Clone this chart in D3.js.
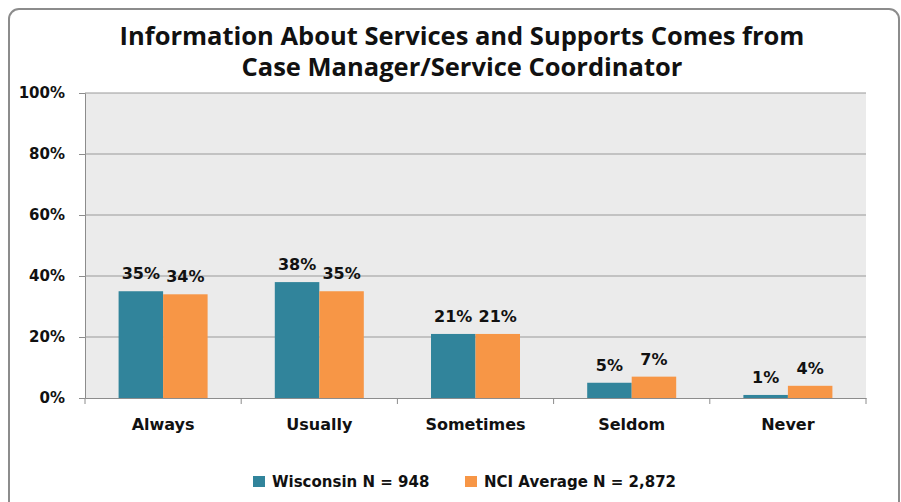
<!DOCTYPE html>
<html>
<head>
<meta charset="utf-8">
<script src="https://cdn.jsdelivr.net/npm/d3@7"></script>
<style>
  body { margin: 0; background: #fff; }
  svg { display: block; }
</style>
</head>
<body>
<svg id="chart"></svg>
<script>
const categories = ['Always', 'Usually', 'Sometimes', 'Seldom', 'Never']
const seriesNames = ['Wisconsin N = 948', 'NCI Average N = 2,872']
const wisconsin = [35, 38, 21, 5, 1]
const nciAverage = [34, 35, 21, 7, 4]
const yTicks = [0, 20, 40, 60, 80, 100]
const titleLines = ['Information About Services and Supports Comes from', 'Case Manager/Service Coordinator']

const colors = ['#31849B', '#F79646']
const width = 901, height = 502
const plot = { left: 85, right: 866, top: 93, bottom: 398 }
const labelFont = '"DejaVu Sans", Verdana, sans-serif'

const svg = d3.select('#chart')
  .attr('width', width)
  .attr('height', height)

// outer frame
svg.append('rect')
  .attr('x', 9).attr('y', 9)
  .attr('width', 890).attr('height', 520)
  .attr('rx', 10)
  .attr('fill', '#fff')
  .attr('stroke', '#8c8c8c')
  .attr('stroke-width', 2)

// title
svg.append('g').selectAll('text')
  .data(titleLines).enter().append('text')
  .attr('x', 462)
  .attr('y', (d, i) => 45 + i * 31)
  .attr('text-anchor', 'middle')
  .style('font-family', '"Open Sans", sans-serif')
  .style('font-weight', 700)
  .style('font-size', '25.5px')
  .attr('fill', '#111')
  .text(d => d)

const x0 = d3.scaleBand()
  .domain(categories)
  .range([plot.left, plot.right])
  .paddingInner(0)
  .paddingOuter(0)

const x1 = d3.scaleBand()
  .domain([0, 1])
  .range([0, x0.bandwidth()])
  .paddingOuter(0.755)
  .paddingInner(0)

const y = d3.scaleLinear()
  .domain([0, 100])
  .range([plot.bottom, plot.top])

// plot background
svg.append('rect')
  .attr('x', plot.left).attr('y', plot.top)
  .attr('width', plot.right - plot.left)
  .attr('height', plot.bottom - plot.top)
  .attr('fill', '#ebebeb')

// y axis with gridlines
const yAxis = svg.append('g')
  .attr('transform', `translate(${plot.left},0)`)
  .call(d3.axisLeft(y).tickValues(yTicks).tickSize(6).tickPadding(14).tickFormat(d => d + '%'))

yAxis.select('.domain').attr('stroke', '#8c8c8c')
yAxis.selectAll('.tick line').attr('stroke', '#8c8c8c')
yAxis.selectAll('.tick text')
  .style('font-family', labelFont)
  .style('font-weight', 700)
  .style('font-size', '15px')
  .attr('fill', '#111')

svg.append('g').selectAll('line')
  .data(yTicks.filter(d => d > 0)).enter().append('line')
  .attr('x1', plot.left).attr('x2', plot.right)
  .attr('y1', d => y(d)).attr('y2', d => y(d))
  .attr('stroke', '#9a9a9a')
  .attr('stroke-width', 1.2)

// x axis
const xAxis = svg.append('g')
  .attr('transform', `translate(0,${plot.bottom})`)
  .call(d3.axisBottom(x0).tickSize(0).tickPadding(21))

xAxis.select('.domain').attr('stroke', '#8c8c8c')
xAxis.selectAll('.tick text')
  .style('font-family', labelFont)
  .style('font-weight', 700)
  .style('font-size', '16px')
  .attr('fill', '#111')

// category divider ticks
const bounds = categories.map(c => x0(c)).concat([plot.right])
svg.append('g').selectAll('line')
  .data(bounds).enter().append('line')
  .attr('x1', d => d).attr('x2', d => d)
  .attr('y1', plot.bottom).attr('y2', plot.bottom + 6)
  .attr('stroke', '#8c8c8c')

// bars
const rows = categories.map((c, i) => ({ cat: c, values: [wisconsin[i], nciAverage[i]] }))

const groups = svg.append('g').selectAll('g')
  .data(rows).enter().append('g')
  .attr('transform', d => `translate(${x0(d.cat)},0)`)

groups.selectAll('rect')
  .data(d => d.values.map((v, k) => ({ k, v }))).enter().append('rect')
  .attr('x', d => x1(d.k))
  .attr('y', d => y(d.v))
  .attr('width', x1.bandwidth())
  .attr('height', d => plot.bottom - y(d.v))
  .attr('fill', d => colors[d.k])

groups.selectAll('text')
  .data(d => d.values.map((v, k) => ({ k, v }))).enter().append('text')
  .attr('x', d => x1(d.k) + x1.bandwidth() / 2)
  .attr('y', d => y(d.v) - 12)
  .attr('text-anchor', 'middle')
  .style('font-family', labelFont)
  .style('font-weight', 700)
  .style('font-size', '16px')
  .attr('fill', '#111')
  .text(d => d.v + '%')

// legend
const legendX = [253, 465]
const legend = svg.append('g').selectAll('g')
  .data(seriesNames).enter().append('g')
  .attr('transform', (d, i) => `translate(${legendX[i]},476)`)

legend.append('rect')
  .attr('width', 12).attr('height', 11)
  .attr('fill', (d, i) => colors[i])

legend.append('text')
  .attr('x', 19).attr('y', 11)
  .style('font-family', labelFont)
  .style('font-weight', 700)
  .style('font-size', '15px')
  .attr('fill', '#111')
  .text(d => d)
</script>
</body>
</html>
